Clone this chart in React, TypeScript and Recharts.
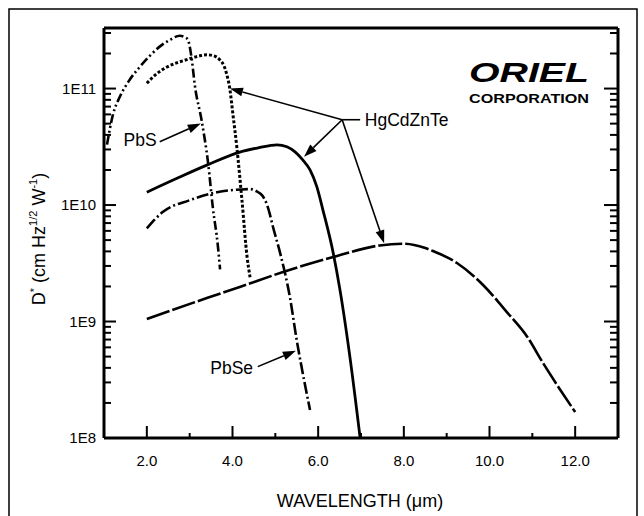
import React from 'react';
import { LineChart, Line, XAxis, YAxis, ReferenceLine, ReferenceDot } from 'recharts';

const FONT = '"Liberation Sans", Arial, Helvetica, sans-serif';

// wavelength (um) vs D* (cm Hz^1/2 W^-1)
const pbs = [
  { x: 1.07, y: 3.3e10 }, { x: 1.21, y: 6.0e10 }, { x: 1.37, y: 8.5e10 }, { x: 1.6, y: 1.19e11 },
  { x: 1.84, y: 1.54e11 }, { x: 2.07, y: 1.91e11 }, { x: 2.3, y: 2.29e11 }, { x: 2.54, y: 2.62e11 },
  { x: 2.77, y: 2.84e11 }, { x: 2.91, y: 2.73e11 }, { x: 2.96, y: 2.62e11 }, { x: 3.05, y: 1.77e11 },
  { x: 3.12, y: 1.07e11 }, { x: 3.28, y: 5.3e10 }, { x: 3.43, y: 2.3e10 }, { x: 3.54, y: 9.6e9 },
  { x: 3.66, y: 4.4e9 }, { x: 3.71, y: 2.8e9 },
];
const hgDotted = [
  { x: 2.0, y: 1.11e11 }, { x: 2.23, y: 1.34e11 }, { x: 2.47, y: 1.53e11 }, { x: 2.93, y: 1.77e11 },
  { x: 3.24, y: 1.91e11 }, { x: 3.4, y: 1.95e11 }, { x: 3.56, y: 1.91e11 }, { x: 3.7, y: 1.77e11 },
  { x: 3.8, y: 1.57e11 }, { x: 3.87, y: 1.31e11 }, { x: 3.94, y: 9.8e10 }, { x: 4.01, y: 6.0e10 },
  { x: 4.1, y: 3.16e10 }, { x: 4.22, y: 1.11e10 }, { x: 4.34, y: 3.6e9 }, { x: 4.41, y: 2.4e9 },
];
const hgSolid = [
  { x: 2.0, y: 1.29e10 }, { x: 2.77, y: 1.74e10 }, { x: 3.4, y: 2.2e10 }, { x: 4.17, y: 2.85e10 },
  { x: 4.6, y: 3.1e10 }, { x: 5.04, y: 3.29e10 }, { x: 5.27, y: 3.16e10 }, { x: 5.46, y: 2.86e10 },
  { x: 5.64, y: 2.44e10 }, { x: 5.81, y: 2.0e10 }, { x: 5.97, y: 1.43e10 }, { x: 6.11, y: 9.1e9 },
  { x: 6.35, y: 3.9e9 }, { x: 6.51, y: 1.86e9 }, { x: 6.74, y: 5.0e8 }, { x: 6.98, y: 1.0e8 },
];
const pbse = [
  { x: 2.0, y: 6.3e9 }, { x: 2.37, y: 8.7e9 }, { x: 3.0, y: 1.1e10 }, { x: 3.64, y: 1.29e10 },
  { x: 4.2, y: 1.36e10 }, { x: 4.41, y: 1.37e10 }, { x: 4.55, y: 1.32e10 }, { x: 4.7, y: 1.2e10 },
  { x: 4.8, y: 1.02e10 }, { x: 4.87, y: 8.4e9 }, { x: 4.94, y: 6.6e9 }, { x: 5.11, y: 3.9e9 },
  { x: 5.34, y: 1.62e9 }, { x: 5.5, y: 6.9e8 }, { x: 5.64, y: 3.6e8 }, { x: 5.81, y: 1.74e8 },
];
const hgDashed = [
  { x: 2.0, y: 1.05e9 }, { x: 3.4, y: 1.59e9 }, { x: 4.17, y: 1.98e9 }, { x: 5.18, y: 2.66e9 },
  { x: 6.35, y: 3.58e9 }, { x: 7.44, y: 4.5e9 }, { x: 8.0, y: 4.65e9 }, { x: 8.5, y: 4.27e9 },
  { x: 8.68, y: 4.03e9 }, { x: 9.24, y: 3.18e9 }, { x: 9.85, y: 2.06e9 }, { x: 10.41, y: 1.2e9 },
  { x: 10.88, y: 7.4e8 }, { x: 11.25, y: 4.4e8 }, { x: 11.65, y: 2.6e8 }, { x: 12.0, y: 1.67e8 },
];

const xTicks = [2, 3, 4, 5, 6, 7, 8, 9, 10, 11, 12];
const xMajor = [2, 4, 6, 8, 10, 12];
const yMajor = [1e8, 1e9, 1e10, 1e11];
const yMajorLabels = ['1E8', '1E9', '1E10', '1E11'];
const yMinorMult = [2, 3, 4, 5, 6, 7, 8, 9];
const yTicks = [
  ...yMajor,
  ...[1e8, 1e9, 1e10].flatMap((d) => yMinorMult.map((m) => m * d)),
  2e11, 3e11,
];

// annotation arrows (data coords)
const arrows = [
  { from: { x: 2.3, y: 3.5e10 }, to: { x: 3.26, y: 5.0e10 } },
  { from: { x: 6.56, y: 5.4e10 }, to: { x: 3.94, y: 1.0e11 } },
  { from: { x: 6.56, y: 5.4e10 }, to: { x: 5.67, y: 2.6e10 } },
  { from: { x: 6.56, y: 5.4e10 }, to: { x: 7.54, y: 4.7e9 } },
  { from: { x: 4.59, y: 4.1e8 }, to: { x: 5.48, y: 5.6e8 } },
];
const leader = { from: { x: 6.56, y: 5.4e10 }, to: { x: 6.98, y: 5.4e10 } };
const notes = [
  { x: 2.23, y: 3.6e10, text: 'PbS', anchor: 'end' },
  { x: 7.09, y: 5.4e10, text: 'HgCdZnTe', anchor: 'start' },
  { x: 4.48, y: 4.0e8, text: 'PbSe', anchor: 'end' },
];

const DOMAIN_Y: [number, number] = [1e8, 3.31e11];
const DOMAIN_X: [number, number] = [1, 13];

const isMajorY = (v: number) => yMajor.includes(v);

const YTickLeft = (p: any) => {
  const v = p.payload.value;
  const major = isMajorY(v);
  return (
    <g>
      <line x1={p.x} x2={p.x + (major ? 12 : 7)} y1={p.y} y2={p.y} stroke="#000" strokeWidth={2} />
      {major && (
        <text x={p.x - 8} y={p.y} dy={5} textAnchor="end" fontSize={15} fontFamily={FONT} fill="#000">
          {yMajorLabels[yMajor.indexOf(v)]}
        </text>
      )}
    </g>
  );
};

const YTickRight = (p: any) => {
  const major = isMajorY(p.payload.value);
  return <line x1={p.x} x2={p.x - (major ? 14 : 8)} y1={p.y} y2={p.y} stroke="#000" strokeWidth={2} />;
};

const XTickBottom = (p: any) => {
  const v = p.payload.value;
  const major = xMajor.includes(v);
  return (
    <g>
      <line x1={p.x} x2={p.x} y1={p.y} y2={p.y - (major ? 12 : 5)} stroke="#000" strokeWidth={2} />
      {major && (
        <text x={p.x} y={p.y + 28} textAnchor="middle" fontSize={15} fontFamily={FONT} fill="#000">
          {v.toFixed(1)}
        </text>
      )}
    </g>
  );
};

const XTickTop = (p: any) => (
  <line x1={p.x} x2={p.x} y1={p.y} y2={p.y + 6} stroke="#000" strokeWidth={2} />
);

const Arrow = (p: any) => {
  const { x1, y1, x2, y2 } = p;
  const a = Math.atan2(y2 - y1, x2 - x1);
  const L = 13, W = 4.5;
  const bx = x2 - L * Math.cos(a), by = y2 - L * Math.sin(a);
  const nx = -Math.sin(a) * W, ny = Math.cos(a) * W;
  return (
    <g>
      <line x1={x1} y1={y1} x2={bx} y2={by} stroke="#000" strokeWidth={1.6} />
      <polygon points={`${x2},${y2} ${bx + nx},${by + ny} ${bx - nx},${by - ny}`} fill="#000" />
    </g>
  );
};

export default function App() {
  return (
    <div style={{ position: 'absolute', left: 0, top: 0, width: 644, height: 516, background: '#fff', overflow: 'hidden' }}>
      <LineChart width={644} height={516} margin={{ top: 27, right: 25, bottom: 38, left: 0 }}>
        <XAxis
          dataKey="x" type="number" domain={DOMAIN_X} ticks={xTicks} interval={0} allowDataOverflow
          tickSize={0} tickMargin={0} tickLine={false} height={40}
          axisLine={{ stroke: '#000', strokeWidth: 3 }}
          tick={(p: any) => <XTickBottom {...p} />}
        />
        <XAxis
          xAxisId="t" orientation="top" type="number" domain={DOMAIN_X} ticks={xTicks} interval={0} allowDataOverflow
          tickSize={0} tickMargin={0} tickLine={false} height={1}
          axisLine={{ stroke: '#000', strokeWidth: 3 }}
          tick={(p: any) => <XTickTop {...p} />}
        />
        <YAxis
          type="number" scale="log" domain={DOMAIN_Y} ticks={yTicks} interval={0} allowDataOverflow
          tickSize={0} tickMargin={0} tickLine={false} width={104}
          axisLine={{ stroke: '#000', strokeWidth: 3 }}
          tick={(p: any) => <YTickLeft {...p} />}
        />
        <YAxis
          yAxisId="r" orientation="right" type="number" scale="log" domain={DOMAIN_Y} ticks={yTicks} interval={0} allowDataOverflow
          tickSize={0} tickMargin={0} tickLine={false} width={1}
          axisLine={{ stroke: '#000', strokeWidth: 3 }}
          tick={(p: any) => <YTickRight {...p} />}
        />

        <Line data={pbs} dataKey="y" type="monotone" stroke="#000" strokeWidth={2.6} strokeDasharray="9 3 2 3 2 3" dot={false} isAnimationActive={false} />
        <Line data={hgDotted} dataKey="y" type="monotone" stroke="#000" strokeWidth={3} strokeDasharray="3 2" dot={false} isAnimationActive={false} />
        <Line data={hgSolid} dataKey="y" type="monotone" stroke="#000" strokeWidth={2.8} dot={false} isAnimationActive={false} />
        <Line data={pbse} dataKey="y" type="monotone" stroke="#000" strokeWidth={2.6} strokeDasharray="12 3 2 3" dot={false} isAnimationActive={false} />
        <Line data={hgDashed} dataKey="y" type="monotone" stroke="#000" strokeWidth={2.6} strokeDasharray="24 3" dot={false} isAnimationActive={false} />

        {arrows.map((a, i) => (
          <ReferenceLine key={'a' + i} segment={[a.from, a.to]} shape={(p: any) => <Arrow {...p} />} />
        ))}
        <ReferenceLine segment={[leader.from, leader.to]} stroke="#000" strokeWidth={1.6} />
        {notes.map((n, i) => (
          <ReferenceDot
            key={'n' + i} x={n.x} y={n.y} r={0}
            shape={(p: any) => (
              <text x={p.cx} y={p.cy} dy={6} textAnchor={n.anchor as any} fontSize={17.5} fontFamily={FONT} fill="#000">
                {n.text}
              </text>
            )}
          />
        ))}
      </LineChart>

      <svg width={644} height={516} style={{ position: 'absolute', left: 0, top: 0, pointerEvents: 'none' }}>
        <rect x={9} y={9} width={628} height={540} fill="none" stroke="#000" strokeWidth={1.5} />
        <text x={469} y={82} fontSize={28} fontWeight="bold" fontStyle="italic" fontFamily={FONT} textLength={120} lengthAdjust="spacingAndGlyphs">
          ORIEL
        </text>
        <text x={469} y={103} fontSize={13} fontWeight="bold" fontFamily={FONT} textLength={120} lengthAdjust="spacingAndGlyphs">
          CORPORATION
        </text>
        <text x={360} y={507} textAnchor="middle" fontSize={18} fontFamily={FONT}>
          WAVELENGTH (μm)
        </text>
        <text transform="translate(45,239) rotate(-90)" textAnchor="middle" fontSize={18} fontFamily={FONT}>
          D<tspan fontSize={11} dy={-7}>*</tspan>
          <tspan dy={7}> (cm Hz</tspan>
          <tspan fontSize={11} dy={-8}>1/2</tspan>
          <tspan dy={8}> W</tspan>
          <tspan fontSize={11} dy={-8}>-1</tspan>
          <tspan dy={8}>)</tspan>
        </text>
      </svg>
    </div>
  );
}
